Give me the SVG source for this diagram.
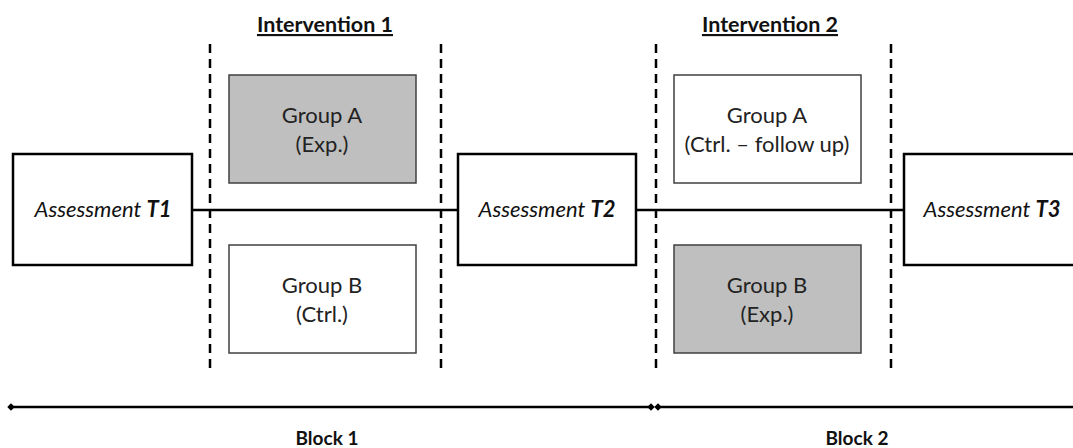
<svg xmlns="http://www.w3.org/2000/svg" width="1073" height="448" viewBox="0 0 1073 448">
<style>
.box{fill:#fff;stroke:#000;stroke-width:2.5}
.gbox{stroke:#404040;stroke-width:1.5;fill:#fff}
.gray{fill:#bfbfbf}
.t{font-family:Lato,"Open Sans",sans-serif;font-size:22px;fill:#222;text-anchor:middle}
.a{font-family:Lato,"Open Sans",sans-serif;font-size:22px;font-style:italic;fill:#111;text-anchor:middle}
.h{font-family:Lato,"Open Sans",sans-serif;font-size:21.5px;font-weight:bold;fill:#111;text-anchor:middle;text-decoration:underline}
.b{font-family:Lato,"Open Sans",sans-serif;font-size:19px;font-weight:bold;fill:#111;text-anchor:middle}
.dash{stroke:#000;stroke-width:2.5;stroke-dasharray:9 6}
.ln{stroke:#000;stroke-width:2.5;fill:none}
</style>
<defs>
<marker id="dot" viewBox="0 0 10 10" refX="5" refY="5" markerWidth="3" markerHeight="3" markerUnits="strokeWidth"><path d="M5 0 L10 5 L5 10 L0 5Z" fill="#000"/></marker>
</defs>
<g id="connectors">
<line class="ln" x1="192" y1="210" x2="458" y2="210"/>
<line class="ln" x1="636" y1="210" x2="904" y2="210"/>
<line class="dash" x1="210" y1="44" x2="210" y2="368"/>
<line class="dash" x1="441" y1="44" x2="441" y2="368"/>
<line class="dash" x1="656" y1="44" x2="656" y2="368"/>
<line class="dash" x1="891" y1="44" x2="891" y2="368"/>
<line class="ln" x1="11" y1="407" x2="651" y2="407" marker-start="url(#dot)" marker-end="url(#dot)"/>
<line class="ln" x1="658" y1="407" x2="1073" y2="407" marker-start="url(#dot)"/>
</g>
<g id="int1"><text class="h" x="325" y="32">Intervention 1</text></g>
<g id="int2"><text class="h" x="770" y="32">Intervention 2</text></g>
<g id="t1"><rect class="box" x="13" y="154" width="179" height="111"/><text class="a" x="103" y="217">Assessment <tspan font-weight="bold">T1</tspan></text></g>
<g id="t2"><rect class="box" x="458" y="154" width="178" height="111"/><text class="a" x="547" y="217">Assessment <tspan font-weight="bold">T2</tspan></text></g>
<g id="t3"><rect class="box" x="904" y="154" width="180" height="111"/><text class="a" x="992" y="217">Assessment <tspan font-weight="bold">T3</tspan></text></g>
<g id="g1a"><rect class="gbox gray" x="229" y="75" width="187" height="108"/><text class="t" x="322" y="123">Group A</text><text class="t" x="322" y="152">(Exp.)</text></g>
<g id="g1b"><rect class="gbox" x="229" y="245" width="187" height="108"/><text class="t" x="322" y="293">Group B</text><text class="t" x="322" y="322">(Ctrl.)</text></g>
<g id="g2a"><rect class="gbox" x="674" y="75" width="187" height="108"/><text class="t" x="767" y="123">Group A</text><text class="t" x="767" y="152" font-size="19">(Ctrl. – follow up)</text></g>
<g id="g2b"><rect class="gbox gray" x="674" y="245" width="187" height="108"/><text class="t" x="767" y="293">Group B</text><text class="t" x="767" y="322">(Exp.)</text></g>
<g id="block1"><text class="b" x="327" y="445">Block 1</text></g>
<g id="block2"><text class="b" x="857" y="445">Block 2</text></g>
</svg>
